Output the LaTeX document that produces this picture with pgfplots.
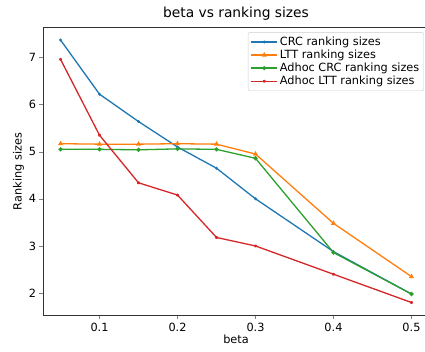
\documentclass[border=0pt]{standalone}
\usepackage{pgfplots}
\pgfplotsset{compat=1.18}
\usepackage{fontspec}
\setmainfont{DejaVu Sans}
\definecolor{c0}{HTML}{1F77B4}
\definecolor{c1}{HTML}{FF7F0E}
\definecolor{c2}{HTML}{2CA02C}
\definecolor{c3}{HTML}{D62728}
\begin{document}
\begin{tikzpicture}
\begin{axis}[
  at={(0pt,0pt)}, anchor=south west,
  scale only axis, width=386pt, height=288.4pt,
  xmin=0.0275, xmax=0.5225, ymin=1.52, ymax=7.64,
  xtick={0.1,0.2,0.3,0.4,0.5}, ytick={2,3,4,5,6,7},
  xticklabel style={/pgf/number format/fixed,/pgf/number format/precision=1},
  /pgf/number format/assume math mode=true,
  tick label style={font=\fontsize{11.3}{13}\selectfont},
  tick align=outside, tick pos=left, major tick length=3.5pt,
  axis line style={draw=black!80, line width=0.9pt},
  title={beta vs ranking sizes}, title style={font=\fontsize{13.8}{16}\selectfont, yshift=-3pt},
  xlabel={beta}, ylabel={Ranking sizes},
  label style={font=\fontsize{11.3}{13}\selectfont},
  xlabel style={yshift=3pt}, ylabel style={yshift=-2pt},
  legend style={at={(0.987,0.983)}, anchor=north east, draw=black!20, rounded corners=2pt,
    font=\fontsize{11.3}{13}\selectfont, row sep=-1pt, inner sep=2.5pt},
  legend cell align=left,
  legend image code/.code={\draw[mark repeat=2,mark phase=2,#1,line width=1.3pt] plot coordinates {(0pt,0pt)(13pt,0pt)(26pt,0pt)};},
  every axis plot/.append style={line width=1.3pt},
]
\addplot[c0, mark=*, mark size=0.7pt] coordinates {(0.05,7.37)(0.1,6.22)(0.15,5.64)(0.2,5.1)(0.25,4.65)(0.3,4.0)(0.4,2.88)(0.5,1.98)};
\addlegendentry{CRC ranking sizes}
\addplot[c1, mark=triangle*, mark size=1.7pt] coordinates {(0.05,5.17)(0.1,5.16)(0.15,5.16)(0.2,5.17)(0.25,5.16)(0.3,4.95)(0.4,3.48)(0.5,2.35)};
\addlegendentry{LTT ranking sizes}
\addplot[c2, mark=*, mark size=1.4pt] coordinates {(0.05,5.05)(0.1,5.05)(0.15,5.04)(0.2,5.06)(0.25,5.05)(0.3,4.86)(0.4,2.86)(0.5,1.98)};
\addlegendentry{Adhoc CRC ranking sizes}
\addplot[c3, mark=star, mark size=1.4pt] coordinates {(0.05,6.96)(0.1,5.35)(0.15,4.34)(0.2,4.08)(0.25,3.18)(0.3,3.0)(0.4,2.40)(0.5,1.80)};
\addlegendentry{Adhoc LTT ranking sizes}
\end{axis}
\pgfresetboundingbox
\path[use as bounding box] (-43pt,-36.3pt) rectangle (382pt,315.7pt);
\end{tikzpicture}
\end{document}
